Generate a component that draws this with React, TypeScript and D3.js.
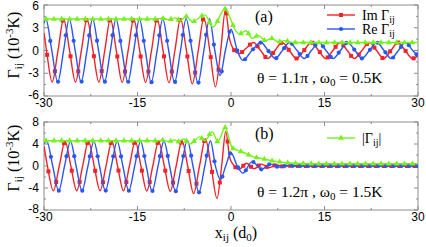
import * as d3 from 'd3';
import { useEffect, useRef } from 'react';

type Pt = [number, number];

const xTicks = [-30, -15, 0, 15, 30];
const xMinor = [-22.5, -7.5, 7.5, 22.5];
const yTicksA = [-6, -3, 0, 3, 6];
const yMinorA = [-4.5, -1.5, 1.5, 4.5];
const yTicksB = [-8, -4, 0, 4, 8];
const yMinorB = [-6, -2, 2, 6];

// panel (a): theta = 1.1 pi, omega0 = 0.5K
const imA: Pt[] = [
  [-30, 2.3], [-29.6, 0], [-28.7, -4.15], [-27.75, 0], [-26.85, 4.15], [-25.9, 0],
  [-24.95, -4.15], [-24.0, 0], [-23.1, 4.15], [-22.15, 0], [-21.2, -4.15], [-20.25, 0],
  [-19.35, 4.15], [-18.4, 0], [-17.45, -4.2], [-16.5, 0], [-15.6, 4.15], [-14.65, 0],
  [-13.7, -4.2], [-12.75, 0], [-11.85, 4.15], [-10.9, 0], [-9.95, -4.25], [-9.0, 0],
  [-8.1, 4.2], [-7.15, 0], [-6.2, -4.4], [-5.25, 0], [-4.35, 4.3], [-3.4, 0],
  [-2.5, -4.8], [-1.65, 0], [-0.9, 5.3], [-0.2, 1.4], [0.3, 0.3], [1.3, -0.4],
  [2.45, 0.3], [3.6, 1.05], [4.75, 0], [5.9, -1.05], [7.05, 0], [8.2, 1.05],
  [9.35, 0], [10.5, -1.05], [11.7, 0], [12.9, 1.05], [14.05, 0], [15.2, -1.05],
  [16.35, 0], [17.5, 1.05], [18.65, 0], [19.8, -1.05], [21.0, 0], [22.2, 1.05],
  [23.35, 0], [24.5, -1.05], [25.65, 0], [26.8, 1.05], [27.95, 0], [29.1, -1.05],
  [30, -0.7],
];

const reA: Pt[] = [
  [-30, 3.6], [-29.7, 4.15], [-28.75, 0], [-27.8, -4.15], [-26.85, 0], [-25.95, 4.15],
  [-25.0, 0], [-24.05, -4.15], [-23.1, 0], [-22.2, 4.15], [-21.25, 0], [-20.3, -4.15],
  [-19.35, 0], [-18.45, 4.15], [-17.5, 0], [-16.55, -4.15], [-15.6, 0], [-14.7, 4.15],
  [-13.75, 0], [-12.8, -4.2], [-11.85, 0], [-10.95, 4.15], [-10.0, 0], [-9.05, -4.2],
  [-8.1, 0], [-7.2, 4.2], [-6.25, 0], [-5.3, -4.3], [-4.35, 0], [-3.45, 4.2],
  [-2.6, 0], [-1.75, -3.3], [-0.9, 0], [0.0, 2.8], [1.0, 0], [1.9, -1.3],
  [3.35, 0], [4.8, 1.05], [5.95, 0], [7.1, -1.05], [8.25, 0], [9.4, 1.05],
  [10.6, 0], [11.75, -1.05], [12.9, 0], [14.1, 1.05], [15.25, 0], [16.4, -1.05],
  [17.55, 0], [18.7, 1.05], [19.9, 0], [21.0, -1.05], [22.2, 0], [23.4, 1.05],
  [24.55, 0], [25.7, -1.05], [26.85, 0], [28.0, 1.05], [29.15, 0], [30, -0.7],
];

const absA: Pt[] = [
  [-30, 4.15], [-12, 4.15], [-11, 4.25], [-10, 4.05], [-9, 4.3], [-8.1, 3.95],
  [-7.2, 4.5], [-6.2, 3.8], [-4.2, 4.7], [-2.9, 3.1], [-0.95, 5.5], [0.0, 4.0],
  [0.6, 2.8], [1.4, 2.2], [2.4, 2.6], [3.4, 1.6], [4.4, 2.0], [5.5, 1.3],
  [6.5, 1.6], [7.6, 1.15], [8.6, 1.3], [10, 1.05], [30, 1.05],
];

// panel (b): theta = 1.2 pi, omega0 = 1.5K
const imB: Pt[] = [
  [-30, 3.6], [-29.45, 0], [-28.5, -4.5], [-27.55, 0], [-26.6, 4.5], [-25.7, 0],
  [-24.75, -4.5], [-23.8, 0], [-22.85, 4.5], [-21.95, 0], [-21.0, -4.5], [-20.05, 0],
  [-19.1, 4.5], [-18.2, 0], [-17.25, -4.5], [-16.3, 0], [-15.35, 4.5], [-14.45, 0],
  [-13.5, -4.55], [-12.55, 0], [-11.6, 4.5], [-10.7, 0], [-9.75, -4.6], [-8.8, 0],
  [-7.85, 4.6], [-6.95, 0], [-6.0, -5.0], [-5.05, 0], [-4.1, 4.9], [-3.2, 0],
  [-2.25, -5.9], [-1.5, 0], [-0.85, 6.3], [-0.2, 1.5], [0.4, 0.2], [1.3, -0.6],
  [2.5, 0.5], [3.7, -0.5], [4.9, 0.35], [6.1, -0.3], [7.3, 0.2], [8.5, -0.1],
  [9.7, 0.05], [11, 0], [30, 0],
];

const reB: Pt[] = [
  [-30, 4.1], [-29.55, 4.5], [-28.6, 0], [-27.65, -4.5], [-26.7, 0], [-25.75, 4.5],
  [-24.85, 0], [-23.9, -4.5], [-22.95, 0], [-22.0, 4.5], [-21.1, 0], [-20.15, -4.5],
  [-19.2, 0], [-18.25, 4.5], [-17.35, 0], [-16.4, -4.5], [-15.45, 0], [-14.5, 4.5],
  [-13.6, 0], [-12.65, -4.55], [-11.7, 0], [-10.75, 4.55], [-9.85, 0], [-8.9, -4.6],
  [-7.95, 0], [-7.0, 4.7], [-6.1, 0], [-5.15, -4.8], [-4.2, 0], [-3.3, 4.6],
  [-2.5, 0], [-1.7, -2.5], [-0.85, 0], [0.0, 2.4], [1.0, 0], [1.9, -1.3],
  [3.4, 0.8], [4.9, -0.6], [6.3, 0.35], [7.7, -0.2], [9.1, 0.1], [10.5, 0], [30, 0],
];

const absB: Pt[] = [
  [-30, 4.6], [-12, 4.6], [-11, 4.7], [-10, 4.45], [-9, 4.75], [-8.5, 4.4],
  [-7.6, 4.9], [-6.6, 4.0], [-5.0, 5.3], [-4.2, 4.6], [-3.0, 6.2], [-2.1, 4.4],
  [-0.95, 7.0], [0.2, 3.3], [1.0, 2.9], [1.9, 2.5], [2.7, 2.1], [3.5, 1.7],
  [4.5, 1.45], [5.6, 1.2], [6.5, 0.95], [7.4, 0.8], [9, 0.6], [11, 0.45],
  [14, 0.4], [30, 0.4],
];

const RED = '#f0232a';
const BLUE = '#2a57f0';
const GREEN = '#74f21a';
const AXIS = '#8c8c8c';
const SANS = "'Liberation Sans', Arial, sans-serif";
const SERIF = "'Liberation Serif', 'Times New Roman', serif";

const drawMarker = (g, type, cx, cy, color) => {
  if (type === 'square') {
    g.append('rect').attr('x', cx - 2).attr('y', cy - 2).attr('width', 4).attr('height', 4).attr('fill', color);
  } else if (type === 'circle') {
    g.append('circle').attr('cx', cx).attr('cy', cy).attr('r', 2.1).attr('fill', color);
  } else {
    g.append('path')
      .attr('d', d3.symbol().type(d3.symbolTriangle).size(15)())
      .attr('transform', `translate(${cx},${cy})`)
      .attr('fill', color);
  }
};

const App = () => {
  const ref = useRef(null);

  useEffect(() => {
    const svg = d3.select(ref.current);
    svg.selectAll('*').remove();

    const left = 44;
    const right = 418;
    const x = d3.scaleLinear().domain([-30, 30]).range([left, right]);

    const panels = [
      {
        top: 5, bottom: 96, domain: [-6, 6], ticks: yTicksA, minor: yMinorA,
        tag: '(a)', theta: '1.1', omega: '0.5',
        series: [
          { data: imA, color: RED, marker: 'square', start: -29.5 },
          { data: reA, color: BLUE, marker: 'circle', start: -29.0 },
          { data: absA, color: GREEN, marker: 'triangle', start: -29.7 },
        ],
        legend: [
          { name: 'Im', color: RED, marker: 'square', bars: false },
          { name: 'Re', color: BLUE, marker: 'circle', bars: false },
        ],
        ylabelY: 45,
      },
      {
        top: 122, bottom: 210, domain: [-8, 8], ticks: yTicksB, minor: yMinorB,
        tag: '(b)', theta: '1.2', omega: '1.5',
        series: [
          { data: imB, color: RED, marker: 'square', start: -29.3 },
          { data: reB, color: BLUE, marker: 'circle', start: -28.9 },
          { data: absB, color: GREEN, marker: 'triangle', start: -29.7 },
        ],
        legend: [{ name: '', color: GREEN, marker: 'triangle', bars: true }],
        ylabelY: 158,
      },
    ];

    panels.forEach((p, pi) => {
      const y = d3.scaleLinear().domain(p.domain).range([p.bottom, p.top]);
      const g = svg.append('g');
      const clipId = `clip${pi}`;
      svg.append('clipPath').attr('id', clipId)
        .append('rect').attr('x', left).attr('y', p.top - 4).attr('width', right - left).attr('height', p.bottom - p.top + 8);

      // frame
      g.append('rect')
        .attr('x', left).attr('y', p.top)
        .attr('width', right - left).attr('height', p.bottom - p.top)
        .attr('fill', 'none').attr('stroke', AXIS).attr('stroke-width', 1);

      // ticks, inward on all sides
      const tk = g.append('g').attr('stroke', AXIS).attr('stroke-width', 1);
      xTicks.concat(xMinor).forEach((v) => {
        const len = xTicks.includes(v) ? 4 : 2;
        tk.append('line').attr('x1', x(v)).attr('x2', x(v)).attr('y1', p.bottom).attr('y2', p.bottom - len);
        tk.append('line').attr('x1', x(v)).attr('x2', x(v)).attr('y1', p.top).attr('y2', p.top + len);
      });
      p.ticks.concat(p.minor).forEach((v) => {
        const len = p.ticks.includes(v) ? 4 : 2;
        tk.append('line').attr('x1', left).attr('x2', left + len).attr('y1', y(v)).attr('y2', y(v));
        tk.append('line').attr('x1', right).attr('x2', right - len).attr('y1', y(v)).attr('y2', y(v));
      });

      // tick labels
      xTicks.forEach((v) => {
        g.append('text').attr('x', x(v)).attr('y', p.bottom + 11)
          .attr('text-anchor', 'middle').attr('font-family', SANS).attr('font-size', 12)
          .text(String(v));
      });
      p.ticks.forEach((v) => {
        const base = v === p.domain[0] ? y(v) + 2.5 : y(v) + 4;
        g.append('text').attr('x', 39).attr('y', Math.max(base, 10))
          .attr('text-anchor', 'end').attr('font-family', SANS).attr('font-size', 12)
          .text(String(v));
      });

      // curves + markers
      const line = d3.line<Pt>().x((d) => x(d[0])).y((d) => y(d[1])).curve(d3.curveMonotoneX);
      const cg = g.append('g').attr('clip-path', `url(#${clipId})`);
      p.series.forEach((s) => {
        const path = cg.append('path').datum(s.data)
          .attr('d', line).attr('fill', 'none')
          .attr('stroke', s.color).attr('stroke-width', 1.4);
        const node = path.node();
        const total = node.getTotalLength();
        const samples = [];
        for (let l = 0; l <= total; l += 0.4) samples.push(node.getPointAtLength(l));
        const bis = d3.bisector((d) => d.x).left;
        d3.range(s.start, 30.01, 1.25).forEach((v) => {
          const i = Math.min(bis(samples, x(v)), samples.length - 1);
          drawMarker(cg, s.marker, samples[i].x, samples[i].y, s.color);
        });
      });

      // legend
      p.legend.forEach((l, li) => {
        const ly = p.top + 10 + li * 14 + (pi === 1 ? 6 : 0);
        g.append('line').attr('x1', 327).attr('x2', 355).attr('y1', ly).attr('y2', ly)
          .attr('stroke', l.color).attr('stroke-width', 1.4);
        drawMarker(g, l.marker, 341, ly, l.color);
        const t = g.append('text').attr('x', 362).attr('y', ly + 5)
          .attr('font-family', SERIF).attr('font-size', 14);
        if (l.bars) {
          t.append('tspan').text('|Γ');
          t.append('tspan').attr('font-size', 10).attr('dy', 3).text('ij');
          t.append('tspan').attr('dy', -3).text('|');
        } else {
          t.append('tspan').text(`${l.name} Γ`);
          t.append('tspan').attr('font-size', 10).attr('dy', 3).text('ij');
        }
      });

      // panel tag
      g.append('text').attr('x', 255).attr('y', p.top + 17)
        .attr('font-family', SERIF).attr('font-size', 16).text(p.tag);

      // parameters
      const pt = g.append('text').attr('x', 257).attr('y', p.bottom - 13)
        .attr('font-family', SERIF).attr('font-size', 15.5);
      pt.append('tspan').text(`θ  = ${p.theta}π ,  ω`);
      pt.append('tspan').attr('font-size', 11).attr('dy', 3).text('0');
      pt.append('tspan').attr('dy', -3).text(` = ${p.omega}K`);

      // y label
      const yl = g.append('text')
        .attr('transform', `translate(19,${p.ylabelY}) rotate(-90)`)
        .attr('text-anchor', 'middle').attr('font-family', SERIF).attr('font-size', 16);
      yl.append('tspan').text('Γ');
      yl.append('tspan').attr('font-size', 11).attr('dy', 3).text('ij');
      yl.append('tspan').attr('dy', -3).text('  (10');
      yl.append('tspan').attr('font-size', 11).attr('dy', -6).text('-3');
      yl.append('tspan').attr('dy', 6).text('K)');
    });

    // x label
    const xl = svg.append('text').attr('x', 236).attr('y', 238)
      .attr('text-anchor', 'middle').attr('font-family', SERIF).attr('font-size', 16);
    xl.append('tspan').text('x');
    xl.append('tspan').attr('font-size', 11).attr('dy', 3).text('ij');
    xl.append('tspan').attr('dy', -3).text('  (d');
    xl.append('tspan').attr('font-size', 11).attr('dy', 3).text('0');
    xl.append('tspan').attr('dy', -3).text(')');
  }, []);

  return (
    <svg
      ref={ref}
      width={426}
      height={247}
      style={{ position: 'absolute', left: 0, top: 0, background: '#fff' }}
    />
  );
};

export default App;
